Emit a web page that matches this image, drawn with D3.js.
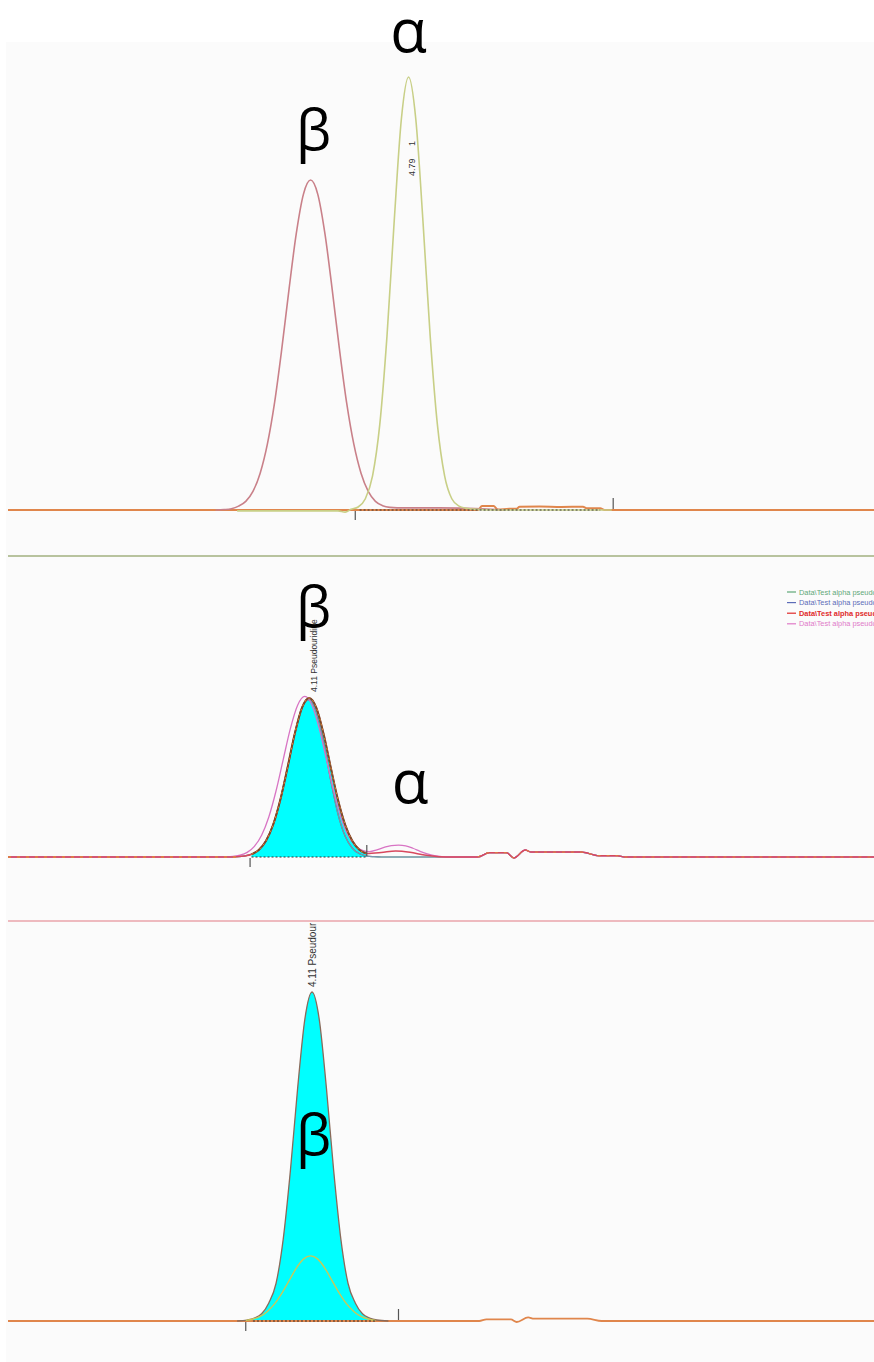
<!DOCTYPE html>
<html><head><meta charset="utf-8">
<script src="https://cdn.jsdelivr.net/npm/d3@7"></script>
<style>body{margin:0;background:#fff}svg{display:block}</style>
</head><body>
<svg id="c" width="874" height="1362"></svg>
<script>
// ---------- data (retention time in min, relative intensity) ----------
const timeDomain = [2.01, 8.02];

// Panel 1
const p1OrangeTimes  = [2.01,5.27,5.30,5.38,5.41,5.49,5.54,5.56,5.70,5.85,6.00,6.03,6.12,6.15,8.02];
const p1OrangeValues = [0,0,0.9,0.9,0.1,0.3,0.3,0.75,0.8,0.7,0.75,0.4,0.4,0,0];
const p1BetaTimes  = [3.45,3.51,3.56,3.61,3.66,3.71,3.76,3.81,3.86,3.91,3.96,4.01,4.06,4.11,4.16,4.21,4.26,4.31,4.36,4.41,4.46,4.51,4.56,4.61,4.66,4.71,5.00,5.30,5.45];
const p1BetaValues = [0,0.1,0.3,0.9,2.0,4.3,8.5,15.2,24.8,37.2,50.9,63.7,72.9,76.2,72.9,63.7,50.9,37.2,24.8,15.2,8.5,4.3,2.0,1.0,0.6,0.5,0.5,0.3,0];
const p1AlphaTimes  = [3.60,4.30,4.35,4.39,4.44,4.49,4.54,4.59,4.64,4.69,4.74,4.79,4.84,4.89,4.94,4.99,5.04,5.09,5.14,5.19,5.24,5.40,6.20];
const p1AlphaValues = [-0.2,-0.2,-0.5,0.15,0.7,2.6,7.9,19.7,40.1,66.6,90.3,100,90.3,66.6,40.1,19.7,7.9,2.6,0.9,0.4,0.2,0,0];
const p1Ticks = [{t:4.42, side:"below"}, {t:6.21, side:"above"}];
const p1Integration = [4.45, 6.12];
const p1PeakTime = "4.79";
const p1PeakNo = "1";

// Panel 2
const p2TailTimes  = [5.27,5.35,5.47,5.52,5.60,5.64,5.99,6.11,6.24,6.29,8.02];
const p2TailValues = [0,2.7,2.7,-0.6,4.4,3.1,3.1,0.8,0.8,0,0];
const p2RedTimes  = [2.01,3.55,3.60,3.65,3.70,3.75,3.80,3.85,3.90,3.95,4.00,4.05,4.10,4.15,4.20,4.25,4.30,4.35,4.40,4.45,4.50,4.60,4.70,4.80,4.90,5.00,5.10];
const p2RedValues = [0,0,0.2,0.6,1.7,4.4,10.1,20.3,36.0,56.3,77.5,93.8,100,93.8,77.5,56.3,36.0,20.3,10.1,4.4,2.2,2.8,3.8,3.0,1.2,0.2,0];
const p2PinkTimes  = [2.01,3.50,3.57,3.62,3.67,3.72,3.77,3.82,3.87,3.92,3.97,4.02,4.07,4.12,4.17,4.22,4.27,4.32,4.37,4.42,4.47,4.52,4.57,4.62,4.67,4.72,4.77,4.82,4.87,4.92,4.97,5.02,5.10];
const p2PinkValues = [0,0,0.4,1.1,2.9,6.7,13.7,25.2,41.5,61.3,80.9,95.5,101,95.5,80.9,61.3,41.5,25.2,13.7,7.0,4.2,3.4,4.5,6.0,7.2,7.5,7.0,5.5,3.6,2.0,0.9,0.3,0];
const p2BlueTimes  = [2.01,3.55,3.60,3.65,3.70,3.75,3.80,3.85,3.90,3.95,4.00,4.05,4.10,4.15,4.20,4.25,4.30,4.35,4.40,4.45,4.50,4.55,4.60];
const p2BlueValues = [0,0,0.2,0.6,1.7,4.4,10.1,20.3,36.0,56.3,77.5,93.8,99,91,72,48,27,13,5.5,2,0.6,0.2,0];
const p2Ticks = [{t:3.69, side:"below"}, {t:4.50, side:"above"}];
const p2Integration = [3.70, 4.50];
const p2PeakLabel = "4.11 Pseudouridine";
const legendLabels = ["Data\\Test alpha pseudouridine 1","Data\\Test alpha pseudouridine 2","Data\\Test alpha pseudouridine 3","Data\\Test alpha pseudouridine 4"];
const legendColors = ["#5fa878","#5c6cb8","#e02a2a","#e07ac8"];

// Panel 3
const p3OrangeTimes  = [2.01,5.28,5.33,5.50,5.54,5.62,5.66,6.03,6.13,8.02];
const p3OrangeValues = [0,0,0.5,0.5,-0.3,1.1,0.7,0.7,0,0];
const p3MainTimes  = [3.60,3.67,3.72,3.77,3.82,3.87,3.92,3.97,4.02,4.07,4.12,4.17,4.22,4.27,4.32,4.37,4.42,4.47,4.52,4.57,4.65];
const p3MainValues = [0,0.3,0.9,2.2,5.5,11.4,24.9,45.8,70.7,91.7,100,91.7,70.7,45.8,24.9,11.4,5.5,2.2,0.9,0.3,0];
const p3InnerTimes  = [3.66,3.71,3.76,3.81,3.86,3.91,3.96,4.01,4.06,4.11,4.16,4.21,4.26,4.31,4.36,4.41,4.46,4.51,4.56];
const p3InnerValues = [0.2,0.6,1.4,2.9,5.2,8.4,12.2,16.0,18.8,19.8,18.8,16.0,12.2,8.4,5.2,2.9,1.4,0.6,0.2];
const p3Ticks = [{t:3.66, side:"below"}, {t:4.72, side:"above"}];
const p3Integration = [3.71, 4.56];
const p3PeakLabel = "4.11 Pseudouridine";

// ---------- drawing ----------
const svg = d3.select("#c");
svg.append("rect").attr("x",6).attr("y",42).attr("width",868).attr("height",1320).attr("fill","#fbfbfb");

const x = d3.scaleLinear().domain(timeDomain).range([8, 874]);
const y1 = d3.scaleLinear().domain([0,100]).range([510, 77]);
const y2 = d3.scaleLinear().domain([0,100]).range([857, 698]);
const y3 = d3.scaleLinear().domain([0,100]).range([1321, 992]);

const zip = (t,v) => t.map((d,i)=>({t:d, v:v[i]}));
function line(y, data, color, w, dash, g) {
  const gen = d3.line().x(d=>x(d.t)).y(d=>y(d.v)).curve(d3.curveMonotoneX);
  (g||svg).append("path").datum(data).attr("d", gen).attr("fill","none")
    .attr("stroke", color).attr("stroke-width", w).attr("stroke-dasharray", dash||null)
    .attr("stroke-linejoin","round");
}
function fill(y, data, color) {
  const gen = d3.area().x(d=>x(d.t)).y0(y(0)).y1(d=>y(d.v)).curve(d3.curveMonotoneX);
  svg.append("path").datum(data).attr("d", gen).attr("fill", color);
}
function ticks(y, list) {
  list.forEach(k => {
    const y0 = y(0);
    svg.append("line").attr("x1", x(k.t)).attr("x2", x(k.t))
      .attr("y1", k.side==="below" ? y0+1 : y0-1)
      .attr("y2", k.side==="below" ? y0+10 : y0-12)
      .attr("stroke","#555").attr("stroke-width",1.2);
  });
}
function integ(y, r) {
  svg.append("line").attr("x1", x(r[0])).attr("x2", x(r[1])).attr("y1", y(0)).attr("y2", y(0))
    .attr("stroke","#333").attr("stroke-width",1.2).attr("stroke-dasharray","2,2");
}
function greek(txt, cx, by, size) {
  svg.append("text").attr("x", cx).attr("y", by).attr("text-anchor","middle")
    .attr("font-family","'Open Sans', 'Noto Sans', sans-serif").attr("font-size", size)
    .attr("fill","#000").text(txt);
}
function peakLabel(txt, px, py, size, g) {
  (g||svg).append("text").attr("transform", `translate(${px},${py}) rotate(-90)`)
    .attr("font-family","'Liberation Sans', Arial, sans-serif").attr("font-size", size)
    .attr("fill","#333").text(txt);
}

// Panel 1
line(y1, zip(p1OrangeTimes, p1OrangeValues), "#e0864c", 2);
line(y1, zip(p1BetaTimes, p1BetaValues), "#c98089", 1.6);
line(y1, zip(p1AlphaTimes, p1AlphaValues), "#c8cf86", 1.6);
integ(y1, p1Integration);
ticks(y1, p1Ticks);
peakLabel(p1PeakTime, x(4.79)+6, 176, 9);
peakLabel(p1PeakNo, x(4.79)+6, 146, 9);
greek("α", x(4.79), 52, 60);
greek("β", x(4.11)+3, 150, 56);
svg.append("line").attr("x1",8).attr("x2",874).attr("y1",556).attr("y2",556).attr("stroke","#b8c39e").attr("stroke-width",2);

// Panel 2
const p2Green = zip(p2BlueTimes, p2BlueValues).concat(zip(p2TailTimes, p2TailValues));
const p2Blue = zip(p2BlueTimes, p2BlueValues).concat(zip(p2TailTimes, p2TailValues));
const p2Red = zip(p2RedTimes, p2RedValues).concat(zip(p2TailTimes, p2TailValues));
const p2Pink = zip(p2PinkTimes, p2PinkValues).concat(zip(p2TailTimes, p2TailValues));
const p2Int = zip(p2RedTimes, p2RedValues).filter(d => d.t >= p2Integration[0] && d.t <= p2Integration[1]);
fill(y2, p2Int, "#00ffff");
line(y2, p2Green, "#4d8f7a", 1.2);
line(y2, p2Blue, "#7a93b0", 1.2);
line(y2, p2Pink, "#d874c4", 1.3);
line(y2, p2Red, "#d8485e", 1.5);
line(y2, p2Int, "#7a4a2a", 2);
line(y2, p2Int, "#e0863c", 1, "2,3");
line(y2, zip([2.01,3.60],[0,0]), "#e0863c", 1.5, "3,6");
line(y2, zip(p2TailTimes, p2TailValues), "#e0863c", 1, "3,6");
integ(y2, p2Integration);
ticks(y2, p2Ticks);
peakLabel(p2PeakLabel, x(4.11)+6, 692, 8.5);
greek("β", x(4.11)+3, 627, 56);
greek("α", x(4.80), 803, 60);
// legend
const lg = svg.append("g");
legendLabels.forEach((lab, i) => {
  const yy = 592 + i*10.6;
  lg.append("line").attr("x1",787).attr("x2",796).attr("y1",yy).attr("y2",yy).attr("stroke",legendColors[i]).attr("stroke-width",1.2);
  lg.append("text").attr("x",799).attr("y",yy+2.6).attr("font-family","'Liberation Sans', Arial, sans-serif")
    .attr("font-size",7.4).attr("font-weight", i===2 ? "bold" : "normal").attr("fill",legendColors[i]).text(lab);
});
svg.append("line").attr("x1",8).attr("x2",874).attr("y1",921).attr("y2",921).attr("stroke","#eaa4ab").attr("stroke-width",1.6);

// Panel 3
const p3Main = zip(p3MainTimes, p3MainValues);
fill(y3, p3Main, "#00ffff");
line(y3, zip(p3OrangeTimes, p3OrangeValues), "#e0864c", 1.8);
line(y3, p3Main, "#8a6a5a", 1.3);
line(y3, zip(p3InnerTimes, p3InnerValues), "#c8c85a", 1.4);
integ(y3, p3Integration);
ticks(y3, p3Ticks);
svg.append("clipPath").attr("id","cp3").append("rect").attr("x",0).attr("y",923).attr("width",874).attr("height",440);
const g3 = svg.append("g").attr("clip-path","url(#cp3)");
peakLabel(p3PeakLabel, x(4.12)+4, 987, 10, g3);
greek("β", x(4.11)+3, 1155, 56);
</script>
</body></html>
